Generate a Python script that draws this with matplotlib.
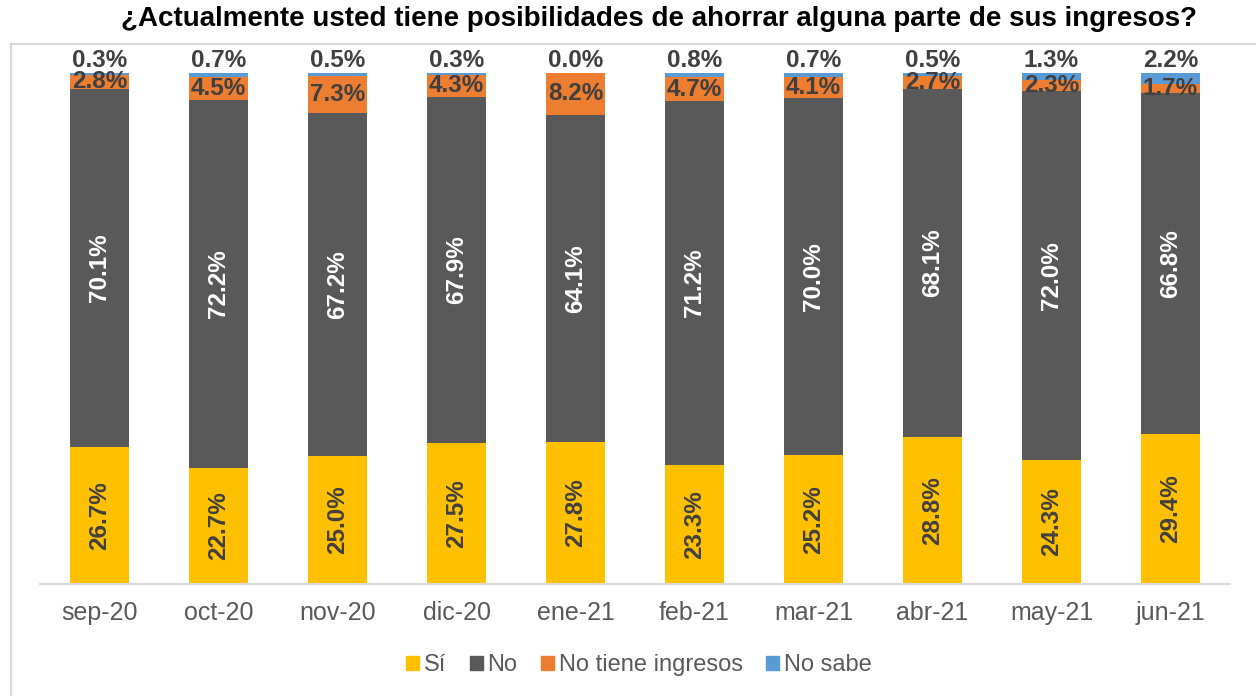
import matplotlib
matplotlib.use("Agg")
import matplotlib.pyplot as plt
from matplotlib.lines import Line2D
import numpy as np

plt.rcParams['font.family'] = ['Liberation Sans', 'DejaVu Sans']

categories = ["sep-20", "oct-20", "nov-20", "dic-20", "ene-21", "feb-21", "mar-21", "abr-21", "may-21", "jun-21"]
si = [26.7, 22.7, 25.0, 27.5, 27.8, 23.3, 25.2, 28.8, 24.3, 29.4]
no = [70.1, 72.2, 67.2, 67.9, 64.1, 71.2, 70.0, 68.1, 72.0, 66.8]
no_ingresos = [2.8, 4.5, 7.3, 4.3, 8.2, 4.7, 4.1, 2.7, 2.3, 1.7]
no_sabe = [0.3, 0.7, 0.5, 0.3, 0.0, 0.8, 0.7, 0.5, 1.3, 2.2]
series_names = ["Sí", "No", "No tiene ingresos", "No sabe"]
colors = ["#FFC000", "#595959", "#ED7D31", "#5B9BD5"]
label_color = "#404040"
fs = 17.5

fig = plt.figure(figsize=(12.56, 6.96), dpi=100)
ax = fig.add_axes([40/1256, 1-584/696, 1190/1256, 511/696])

x = np.arange(len(categories))
data = np.array([si, no, no_ingresos, no_sabe])
totals = data.sum(axis=0)
pct = data / totals * 100
bottom = np.zeros(len(categories))
for i in range(4):
    ax.bar(x, pct[i], 0.5, bottom=bottom, color=colors[i], edgecolor='none', zorder=2)
    bottom += pct[i]

for j in range(len(categories)):
    y0 = pct[0][j] / 2
    ax.text(x[j], y0, f"{si[j]:.1f}%", rotation=90, ha='center', va='center',
            fontsize=fs, fontweight='bold', color=label_color, zorder=3)
    y1 = pct[0][j] + pct[1][j] / 2
    ax.text(x[j], y1, f"{no[j]:.1f}%", rotation=90, ha='center', va='center',
            fontsize=fs, fontweight='bold', color='white', zorder=3)
    y2 = pct[0][j] + pct[1][j] + pct[2][j] / 2
    ax.text(x[j], y2, f"{no_ingresos[j]:.1f}%", ha='center', va='center',
            fontsize=fs, fontweight='bold', color=label_color, zorder=3)
    ax.annotate(f"{no_sabe[j]:.1f}%", (x[j], 100), xytext=(0, 1), textcoords='offset points',
                ha='center', va='bottom', fontsize=fs, fontweight='bold', color=label_color,
                zorder=3, annotation_clip=False)

ax.set_xlim(-0.5, len(categories) - 0.5)
ax.set_ylim(0, 100)
ax.set_yticks([])
ax.set_xticks(x)
ax.set_xticklabels(categories, fontsize=18, color="#595959")
ax.tick_params(axis='x', length=0, pad=12)
for s in ['top', 'right', 'left']:
    ax.spines[s].set_visible(False)
ax.spines['bottom'].set_color('#D9D9D9')
ax.spines['bottom'].set_linewidth(1.5)

fig.text(659/1256, 1-19/696, "¿Actualmente usted tiene posibilidades de ahorrar alguna parte de sus ingresos?",
         ha='center', va='center', fontsize=20, fontweight='bold', color='black')

# chart frame lines
fig.add_artist(Line2D([11/1256, 11/1256], [0, 1-44/696], transform=fig.transFigure, color='#D9D9D9', lw=1.5))
fig.add_artist(Line2D([11/1256, 1], [1-44/696, 1-44/696], transform=fig.transFigure, color='#D9D9D9', lw=1.5))

handles = [plt.Rectangle((0, 0), 1, 1, color=c) for c in colors]
fig.legend(handles, series_names, loc='center', bbox_to_anchor=(639/1256, 1-665/696), ncol=4,
           frameon=False, fontsize=17, handlelength=0.55, handleheight=0.55, handletextpad=0.2,
           columnspacing=1.0, labelcolor="#595959")

fig.savefig("out.png", dpi=100)
